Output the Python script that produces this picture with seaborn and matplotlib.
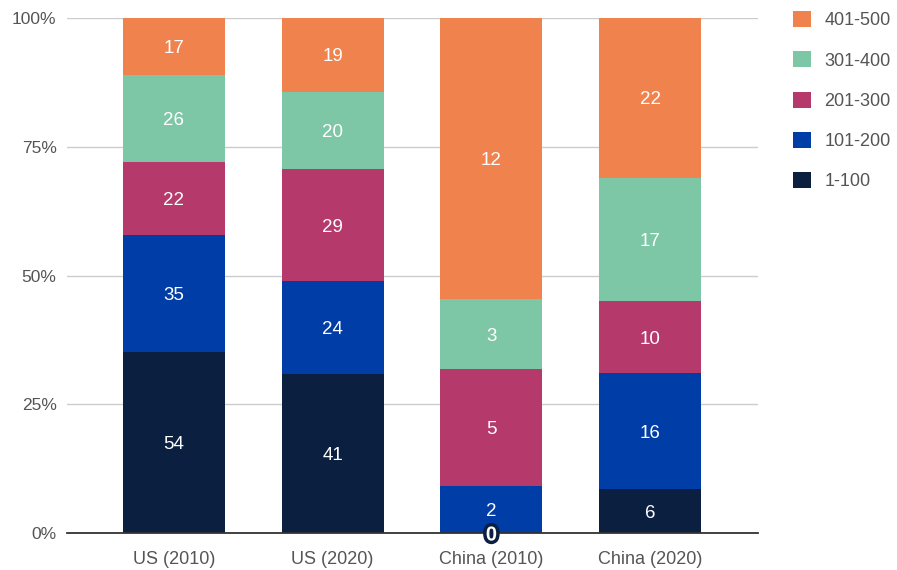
import matplotlib
matplotlib.use("Agg")
import matplotlib.pyplot as plt
import matplotlib.patheffects as pe
from matplotlib.patches import Patch
import seaborn as sns
import pandas as pd
import numpy as np

categories = ["US (2010)", "US (2020)", "China (2010)", "China (2020)"]
series = ["1-100", "101-200", "201-300", "301-400", "401-500"]
v_1_100 = [54, 41, 0, 6]
v_101_200 = [35, 24, 2, 16]
v_201_300 = [22, 29, 5, 10]
v_301_400 = [26, 20, 3, 17]
v_401_500 = [17, 19, 12, 22]
colors = ["#0b1f41", "#003da6", "#b5396b", "#7dc6a6", "#f0824d"]
yticks = [0, 25, 50, 75, 100]
ytick_labels = ["0%", "25%", "50%", "75%", "100%"]

values = np.array([v_1_100, v_101_200, v_201_300, v_301_400, v_401_500], dtype=float)
totals = values.sum(axis=0)
pct = values / totals * 100
cum = np.cumsum(pct, axis=0)

sns.set_theme(style="white")
plt.rcParams["font.family"] = ["Liberation Sans", "DejaVu Sans"]

fig = plt.figure(figsize=(8.97, 5.7), dpi=100)
ax = fig.add_axes([67 / 897, 37 / 570, (758 - 67) / 897, (533 - 18) / 570])

# draw from top layer downward so lower layers overlay
for i in range(len(series) - 1, -1, -1):
    df = pd.DataFrame({"cat": categories, "val": cum[i]})
    sns.barplot(data=df, x="cat", y="val", color=colors[i], saturation=1,
                width=0.643, ax=ax, zorder=2, edgecolor="none", linewidth=0)

for i in range(len(series)):
    for j in range(len(categories)):
        center = cum[i][j] - pct[i][j] / 2
        t = ax.text(j, center, f"{int(values[i][j])}", ha="center", va="center_baseline",
                    color="white", fontsize=13.5, zorder=5)
        if values[i][j] == 0:
            t.set_path_effects([pe.withStroke(linewidth=5, foreground=colors[i])])
            t.set_fontweight("bold")
            t.set_fontsize(14.5)

ax.set_xlim(-0.674, 3.68)
ax.set_ylim(0, 100)
ax.set_yticks(yticks)
ax.set_yticklabels(ytick_labels)
ax.set_xlabel("")
ax.set_ylabel("")
ax.grid(axis="y", color="#cccccc", linewidth=1, zorder=0)
ax.set_axisbelow(True)
for s in ["top", "right", "left"]:
    ax.spines[s].set_visible(False)
ax.spines["bottom"].set_color("#333333")
ax.spines["bottom"].set_linewidth(1.3)
ax.spines["bottom"].set_zorder(4)
ax.tick_params(axis="y", length=0, labelsize=12.5, labelcolor="#555555", pad=7.5)
ax.tick_params(axis="x", length=0, labelsize=13, labelcolor="#555555", pad=13)

handles = [Patch(facecolor=colors[i], edgecolor="none", label=series[i])
           for i in range(len(series) - 1, -1, -1)]
leg = fig.legend(handles=handles, loc="upper left", bbox_to_anchor=(793 / 897, 1 - 11 / 570),
                 frameon=False, fontsize=13, labelcolor="#555555", borderpad=0,
                 borderaxespad=0,
                 handlelength=1.0, handleheight=1.0, handletextpad=0.75, labelspacing=1.22)

fig.savefig("out.png", dpi=100)
